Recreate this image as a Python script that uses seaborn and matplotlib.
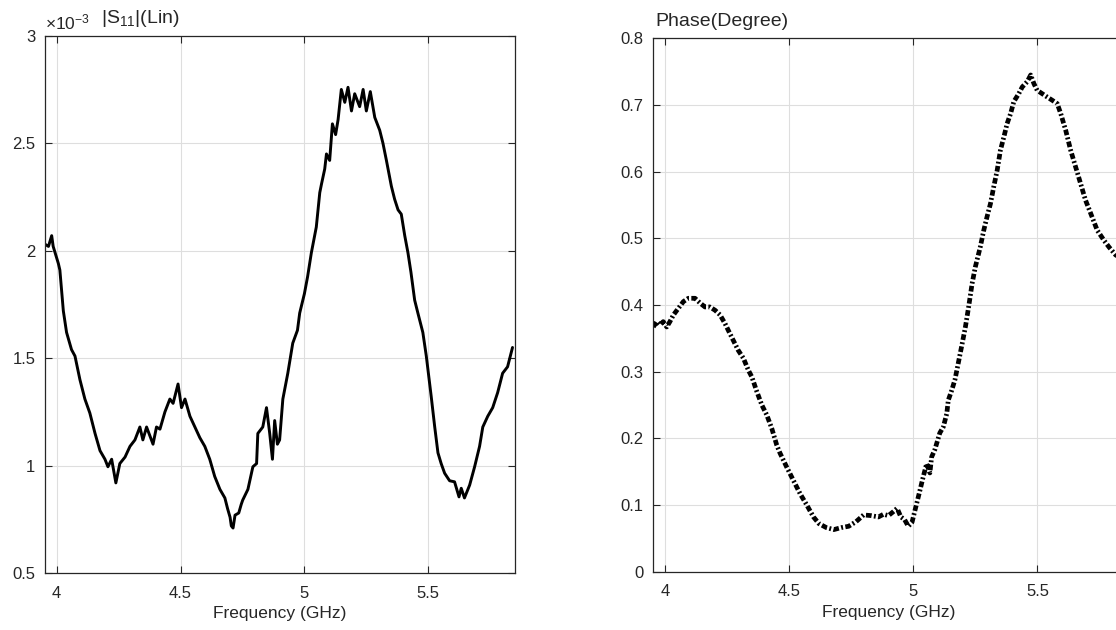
import matplotlib
matplotlib.use("Agg")
import matplotlib.pyplot as plt
import seaborn as sns
import pandas as pd

# ---------------- data ----------------
freq_mag = [3.953, 3.967, 3.98, 3.986, 4.007, 4.013, 4.027, 4.04, 4.06, 4.074, 4.094, 4.114,
            4.134, 4.155, 4.175, 4.195, 4.207, 4.222, 4.239, 4.255, 4.276, 4.296, 4.316,
            4.336, 4.348, 4.363, 4.389, 4.403, 4.417, 4.437, 4.457, 4.47, 4.49, 4.504,
            4.518, 4.538, 4.558, 4.578, 4.598, 4.618, 4.638, 4.659, 4.679, 4.69, 4.70,
            4.705, 4.712, 4.72, 4.735, 4.745, 4.751, 4.772, 4.792, 4.807, 4.812, 4.832,
            4.847, 4.86, 4.871, 4.88, 4.891, 4.9, 4.913, 4.933, 4.953, 4.972, 4.981, 5.0,
            5.013, 5.028, 5.048, 5.062, 5.069, 5.082, 5.089, 5.102, 5.113, 5.126, 5.136,
            5.149, 5.163, 5.176, 5.19, 5.203, 5.223, 5.237, 5.25, 5.266, 5.284, 5.304,
            5.317, 5.331, 5.351, 5.364, 5.378, 5.391, 5.405, 5.418, 5.43, 5.445, 5.458,
            5.478, 5.492, 5.512, 5.526, 5.539, 5.552, 5.566, 5.586, 5.606, 5.624, 5.633,
            5.646, 5.667, 5.687, 5.707, 5.72, 5.74, 5.76, 5.78, 5.8, 5.82, 5.84]
mag_e3 = [2.03, 2.02, 2.07, 2.02, 1.94, 1.91, 1.72, 1.62, 1.54, 1.51, 1.40, 1.31,
          1.245, 1.15, 1.07, 1.03, 0.995, 1.03, 0.92, 1.01, 1.04, 1.09, 1.12,
          1.18, 1.12, 1.18, 1.10, 1.18, 1.17, 1.25, 1.31, 1.29, 1.38, 1.27,
          1.31, 1.23, 1.18, 1.13, 1.09, 1.03, 0.95, 0.89, 0.85, 0.80, 0.76,
          0.72, 0.71, 0.77, 0.78, 0.82, 0.84, 0.89, 0.995, 1.01, 1.15, 1.18,
          1.27, 1.15, 1.03, 1.21, 1.10, 1.12, 1.31, 1.43, 1.57, 1.63, 1.71, 1.80,
          1.88, 1.99, 2.11, 2.27, 2.31, 2.38, 2.45, 2.42, 2.59, 2.54, 2.61,
          2.75, 2.69, 2.76, 2.65, 2.73, 2.67, 2.75, 2.65, 2.74, 2.62, 2.56,
          2.50, 2.42, 2.30, 2.24, 2.19, 2.17, 2.07, 1.99, 1.90, 1.77, 1.71,
          1.62, 1.51, 1.32, 1.18, 1.06, 1.01, 0.965, 0.93, 0.925, 0.855, 0.895,
          0.85, 0.91, 0.995, 1.09, 1.18, 1.23, 1.27, 1.34, 1.43, 1.46, 1.55]

freq_phase = [3.953, 3.967, 3.98, 3.993, 4.007, 4.02, 4.034, 4.054, 4.074, 4.094, 4.121,
              4.141, 4.161, 4.181, 4.202, 4.222, 4.242, 4.255, 4.275, 4.295, 4.316, 4.336,
              4.35, 4.37, 4.39, 4.41, 4.43, 4.45, 4.463, 4.49, 4.517, 4.544, 4.571, 4.598,
              4.62, 4.65, 4.68, 4.71, 4.74, 4.77, 4.80, 4.83, 4.86, 4.88, 4.90, 4.92,
              4.935, 4.95, 4.965, 4.98, 4.995, 5.007, 5.027, 5.04, 5.054, 5.067, 5.074,
              5.087, 5.107, 5.121, 5.135, 5.141, 5.155, 5.168, 5.196, 5.21, 5.223, 5.237,
              5.25, 5.27, 5.284, 5.297, 5.311, 5.324, 5.338, 5.351, 5.365, 5.378, 5.392,
              5.405, 5.425, 5.439, 5.459, 5.473, 5.486, 5.499, 5.519, 5.539, 5.56, 5.58,
              5.594, 5.614, 5.634, 5.654, 5.674, 5.694, 5.715, 5.741, 5.768, 5.788, 5.815,
              5.835]
phase_deg = [0.367, 0.375, 0.37, 0.375, 0.367, 0.375, 0.385, 0.395, 0.405, 0.41, 0.41,
             0.403, 0.397, 0.397, 0.392, 0.385, 0.372, 0.362, 0.347, 0.332, 0.32, 0.302,
             0.292, 0.27, 0.25, 0.235, 0.215, 0.19, 0.178, 0.157, 0.137, 0.117, 0.10, 0.082,
             0.072, 0.066, 0.063, 0.066, 0.068, 0.075, 0.085, 0.084, 0.082, 0.086, 0.084, 0.09,
             0.095, 0.082, 0.078, 0.068, 0.074, 0.092, 0.122, 0.142, 0.162, 0.148, 0.172,
             0.183, 0.208, 0.217, 0.237, 0.257, 0.272, 0.288, 0.34, 0.367, 0.397, 0.432,
             0.457, 0.487, 0.512, 0.532, 0.552, 0.577, 0.602, 0.632, 0.652, 0.672, 0.687,
             0.705, 0.717, 0.727, 0.735, 0.745, 0.732, 0.722, 0.717, 0.712, 0.707, 0.702,
             0.687, 0.662, 0.632, 0.607, 0.582, 0.557, 0.537, 0.512, 0.497, 0.487, 0.475,
             0.47]

xticks = [4, 4.5, 5, 5.5]
xtick_labels = ["4", "4.5", "5", "5.5"]
yticks_mag = [0.5, 1, 1.5, 2, 2.5, 3]
ytick_labels_mag = ["0.5", "1", "1.5", "2", "2.5", "3"]
yticks_phase = [0, 0.1, 0.2, 0.3, 0.4, 0.5, 0.6, 0.7, 0.8]
ytick_labels_phase = ["0", "0.1", "0.2", "0.3", "0.4", "0.5", "0.6", "0.7", "0.8"]

# ---------------- style ----------------
sns.set_theme(style="white")
plt.rcParams["font.family"] = ["Liberation Sans", "DejaVu Sans"]
plt.rcParams["mathtext.fontset"] = "custom"
plt.rcParams["mathtext.rm"] = "Liberation Sans"
plt.rcParams["mathtext.it"] = "Liberation Sans:italic"

TXT = "#262626"
GRID = "#dedede"

fig = plt.figure(figsize=(11.16, 6.30), dpi=100)
fig.patch.set_facecolor("white")
ax1 = fig.add_axes([45 / 1116, 56.8 / 630, 470 / 1116, 537.5 / 630])
ax2 = fig.add_axes([653.3 / 1116, 58.4 / 630, 471 / 1116, 533.3 / 630])

df_mag = pd.DataFrame({"f": freq_mag, "v": mag_e3})
df_ph = pd.DataFrame({"f": freq_phase, "v": phase_deg})

sns.lineplot(data=df_mag, x="f", y="v", ax=ax1, color="black", lw=2.1,
             sort=False, estimator=None)
sns.lineplot(data=df_ph, x="f", y="v", ax=ax2, color="black", lw=3.4,
             sort=False, estimator=None, linestyle=(0, (1.2, 0.5, 0.4, 0.5)))
for l in ax2.get_lines():
    l.set_dash_capstyle("butt")

def style(ax, yticks, ylabels, ylim):
    ax.set_xlim(3.953, 5.85)
    ax.set_ylim(*ylim)
    ax.set_xticks(xticks)
    ax.set_xticklabels(xtick_labels)
    ax.set_yticks(yticks)
    ax.set_yticklabels(ylabels)
    ax.set_xlabel("Frequency (GHz)", fontsize=12.5, color=TXT, labelpad=4)
    ax.set_ylabel("")
    ax.grid(True, color=GRID, lw=0.8)
    ax.set_axisbelow(True)
    for s in ax.spines.values():
        s.set_color(TXT)
        s.set_linewidth(0.9)
        s.set_visible(True)
    ax.tick_params(axis="both", which="both", direction="in", length=5, width=0.8,
                   color=TXT, labelcolor=TXT, labelsize=12,
                   top=True, right=True, bottom=True, left=True)
    ax.tick_params(axis="x", pad=9)
    ax.tick_params(axis="y", pad=7)

style(ax1, yticks_mag, ytick_labels_mag, (0.5, 3))
style(ax2, yticks_phase, ytick_labels_phase, (0, 0.8))

ax1.text(0.0, 1.006, r"$\times\mathregular{10^{-3}}$", transform=ax1.transAxes,
         ha="left", va="bottom", fontsize=12.5, color=TXT)
ax1.text(0.12, 1.012, r"$\mathregular{|S_{11}|}$(Lin)", transform=ax1.transAxes,
         ha="left", va="bottom", fontsize=14, color=TXT)
ax2.text(0.004, 1.016, "Phase(Degree)", transform=ax2.transAxes,
         ha="left", va="bottom", fontsize=14, color=TXT)

fig.savefig("out.png", dpi=100, facecolor="white")
